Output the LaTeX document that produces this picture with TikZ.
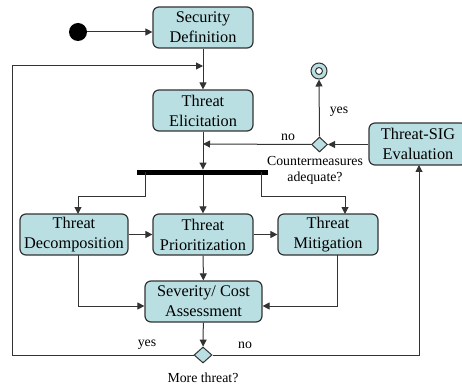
\documentclass[tikz,border=0pt]{standalone}
\usepackage{fontspec}
\setmainfont{Liberation Serif}
\usetikzlibrary{shapes.geometric,arrows.meta}
\definecolor{boxfill}{HTML}{B9DFE2}
\definecolor{edge}{HTML}{333333}
\begin{document}
\begin{tikzpicture}[x=1pt,y=-1pt,
  activity/.style={draw=edge,line width=1.2pt,fill=boxfill,rounded corners=6pt,
    minimum height=41pt,inner sep=0pt,align=center,font=\fontsize{16.3}{20}\selectfont},
  choice/.style={diamond,draw=edge,line width=1pt,fill=boxfill,inner sep=0pt,
    minimum width=18pt,minimum height=16pt},
  lbl/.style={font=\fontsize{13.8}{16}\selectfont,align=center,inner sep=0pt},
  flow/.style={draw=edge,line width=1pt,-{Triangle[length=7pt,width=7pt]}},
  wire/.style={draw=edge,line width=1pt}]
\useasboundingbox (0,0) rectangle (462,387);

% activities
\node[activity,minimum width=100pt] (sd) at (203,27.5) {Security\\Definition};
\node[activity,minimum width=100pt] (te) at (203,110.5) {Threat\\Elicitation};
\node[activity,minimum width=108pt] (td) at (74,234.5) {Threat\\Decomposition};
\node[activity,minimum width=100pt] (tp) at (203,234.5) {Threat\\Prioritization};
\node[activity,minimum width=100pt] (tm) at (328,234.5) {Threat\\Mitigation};
\node[activity,minimum width=117pt] (sc) at (203.5,301.5) {Severity/ Cost\\Assessment};
\node[activity,minimum width=98pt,minimum height=42pt] (sig) at (418,144) {Threat-SIG\\Evaluation};

% start, end, decisions, fork
\node[circle,fill=black,minimum size=18pt,inner sep=0pt] (start) at (78,32) {};
\node[circle,draw=edge,line width=1pt,fill=boxfill,minimum size=16pt,inner sep=0pt] (final) at (319,71) {};
\node[circle,draw=edge,line width=1pt,fill=white,minimum size=7pt,inner sep=0pt] at (final) {};
\node[choice,minimum width=16pt,minimum height=15pt] (cm) at (319.5,144.5) {};
\node[choice] (mt) at (203,355) {};
\node[fill=black,minimum width=131pt,minimum height=5.5pt,inner sep=0pt] (fork) at (202.5,172.5) {};

% bend points of the routed connectors
\coordinate (loopin) at (203,66);
\coordinate (noin) at (203,144);
\coordinate (fl) at (145,172.5);
\coordinate (fr) at (261,172.5);
\coordinate (tdin) at (78,214);
\coordinate (tmin) at (345,214);
\coordinate (tdout) at (78,255);
\coordinate (tmout) at (337,255);
\coordinate (sigin) at (419,165);

% connectors
\draw[flow] (start) -- (sd.west |- start);
\draw[flow] (sd) -- (te);
\draw[flow] (te) -- (fork.north -| te);
\draw[flow] (fork.south -| tp) -- (tp);
\draw[flow] (fl) -- (145,196) -| (tdin);
\draw[flow] (fr) -- (261,196) -| (tmin);
\draw[flow] (td) -- (tp);
\draw[flow] (tp) -- (tm);
\draw[flow] (tp) -- (sc);
\draw[flow] (tdout) |- (sc.west |- 0,306);
\draw[flow] (tmout) |- (sc.east |- 0,306);
\draw[flow] (sc) -- (mt);
\draw[flow] (mt.west) -- (12,355) -- (12,66) -- (loopin);
\draw[flow] (mt.east) -| (sigin);
\draw[flow] (sig.west |- cm) -- (cm.east);
\draw[flow] (cm.west) -- (noin);
\draw[flow] (cm.north) -- (final.south);

% labels
\node[lbl] at (339,112) {yes};
\node[lbl] at (288,137) {no};
\node[lbl] at (315,170) {Countermeasures\\adequate?};
\node[lbl] at (147,345) {yes};
\node[lbl] at (245,345) {no};
\node[lbl] at (203,378) {More threat?};
\end{tikzpicture}
\end{document}
